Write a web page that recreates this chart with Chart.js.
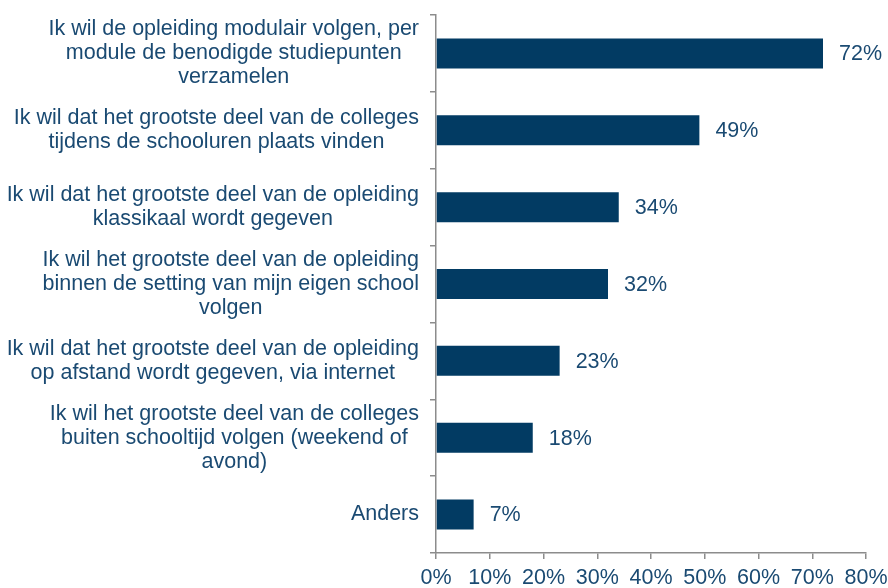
<!DOCTYPE html>
<html lang="nl">
<head>
  <meta charset="UTF-8" />
  <title>Voorkeuren opleiding</title>
  <script src="https://cdn.jsdelivr.net/npm/chart.js"></script>
  <style>
    html, body { margin: 0; padding: 0; background: #fff; }
    #wrap { width: 888px; height: 588px; }
  </style>
</head>
<body>
  <div id="wrap"><canvas id="chart"></canvas></div>

  <script>
    const categories = [
      ["Ik wil de opleiding modulair volgen, per", "module de benodigde studiepunten", "verzamelen"],
      ["Ik wil dat het grootste deel van de colleges", "tijdens de schooluren plaats vinden"],
      ["Ik wil dat het grootste deel van de opleiding", "klassikaal wordt gegeven"],
      ["Ik wil het grootste deel van de opleiding", "binnen de setting van mijn eigen school", "volgen"],
      ["Ik wil dat het grootste deel van de opleiding", "op afstand wordt gegeven, via internet"],
      ["Ik wil het grootste deel van de colleges", "buiten schooltijd volgen (weekend of", "avond)"],
      ["Anders"]
    ];
    const percentages = [72, 49, 34, 32, 23, 18, 7];
    const xTicks = [0, 10, 20, 30, 40, 50, 60, 70, 80];

    const barColor = '#023b63';
    const textColor = '#1a4a72';
    const axisColor = '#8c8c8c';
    const fontFamily = "'Liberation Sans', Arial, sans-serif";
    const fontSize = 21.5;

    // value labels to the right of each bar
    const valueLabels = {
      id: 'valueLabels',
      afterDatasetsDraw(chart) {
        const ctx = chart.ctx;
        const meta = chart.getDatasetMeta(0);
        ctx.save();
        ctx.font = fontSize + 'px ' + fontFamily;
        ctx.fillStyle = textColor;
        ctx.textAlign = 'left';
        ctx.textBaseline = 'middle';
        meta.data.forEach((bar, i) => {
          ctx.fillText(percentages[i] + '%', bar.x + 16, bar.y + 1);
        });
        ctx.restore();
      }
    };

    // each category label block is right aligned, its lines centred inside the block
    const blockLabels = {
      id: 'blockLabels',
      beforeDraw(chart) {
        const scale = chart.scales.y;
        const ctx = chart.ctx;
        const items = scale.getLabelItems(chart.chartArea);
        ctx.save();
        items.forEach(item => {
          ctx.font = item.font.string;
          const lines = [].concat(item.label);
          const w = Math.max(...lines.map(l => ctx.measureText(l).width));
          if (item.options.textAlign !== 'center') {
            item.options.textAlign = 'center';
            item.options.translation[0] -= w / 2;
          }
        });
        ctx.restore();
      }
    };

    new Chart(document.getElementById('chart').getContext('2d'), {
      type: 'bar',
      data: {
        labels: categories,
        datasets: [{
          data: percentages,
          backgroundColor: barColor,
          categoryPercentage: 0.39,
          barPercentage: 1
        }]
      },
      options: {
        indexAxis: 'y',
        responsive: true,
        maintainAspectRatio: false,
        animation: false,
        layout: { padding: { left: 6, right: 22, top: 15, bottom: 0 } },
        plugins: {
          legend: { display: false },
          tooltip: { enabled: false }
        },
        scales: {
          x: {
            min: 0,
            max: 80,
            afterBuildTicks(scale) {
              scale.ticks = xTicks.map(v => ({ value: v }));
            },
            afterFit(scale) {
              scale.height = 35;
              scale.paddingBottom = 0;
              scale.paddingLeft = 0;
              scale.paddingRight = 0;
            },
            border: { color: axisColor, width: 1.5 },
            grid: { drawOnChartArea: false, color: axisColor, tickLength: 6, lineWidth: 1.5 },
            ticks: {
              color: textColor,
              font: { family: fontFamily, size: fontSize, lineHeight: 1.12 },
              padding: 7,
              maxRotation: 0,
              callback: v => v + '%'
            }
          },
          y: {
            afterFit(scale) {
              // labels sit in the middle of their bands, no extra room needed
              scale.paddingTop = 0;
              scale.paddingBottom = 0;
            },
            border: { color: axisColor, width: 1.5 },
            grid: { drawOnChartArea: false, color: axisColor, tickLength: 6, lineWidth: 1.5, offset: true },
            ticks: {
              color: textColor,
              font: { family: fontFamily, size: fontSize, lineHeight: 1.12 },
              crossAlign: 'near',
              padding: 11
            }
          }
        }
      },
      plugins: [valueLabels, blockLabels]
    });
  </script>
</body>
</html>
